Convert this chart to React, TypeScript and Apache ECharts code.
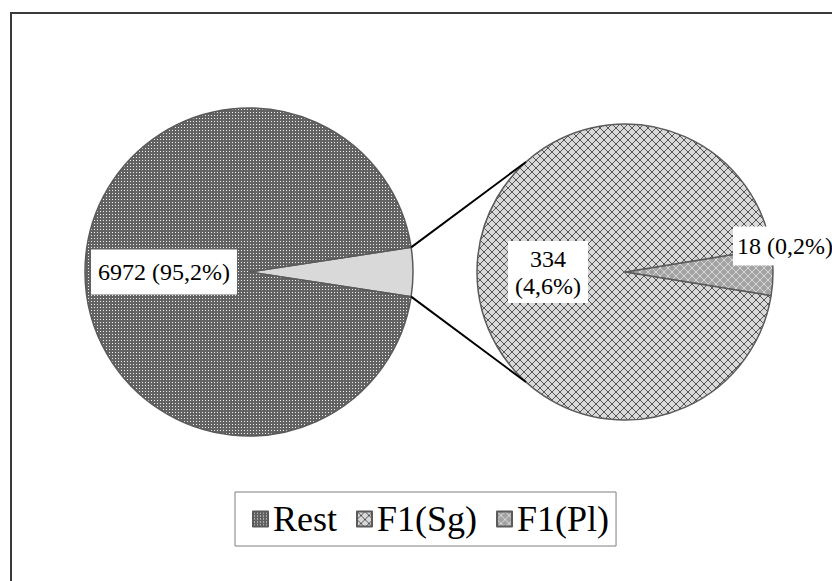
import React, { useEffect, useRef } from "react";
import * as echarts from "echarts";

// ---- data ----
const restName = "Rest";
const restValue = 6972;
const splitNames = ["F1(Pl)", "F1(Sg)"];
const splitValues = [18, 334];
const legendLabels = ["Rest", "F1(Sg)", "F1(Pl)"];

// ---- layout ----
const W = 832;
const H = 581;
const LEFT_C = [249, 272];
const LEFT_R = 164;
const RIGHT_C = [625, 272];
const RIGHT_R = 148;
const CONNECT_ANGLE = 132; // degrees on the second pie
const FONT = "'Liberation Serif', 'Times New Roman', serif";

function tile(size: number, bg: string, fg: string, draw: (ctx: CanvasRenderingContext2D, s: number) => void) {
  const c = document.createElement("canvas");
  c.width = size;
  c.height = size;
  const ctx = c.getContext("2d") as CanvasRenderingContext2D;
  ctx.fillStyle = bg;
  ctx.fillRect(0, 0, size, size);
  ctx.fillStyle = fg;
  draw(ctx, size);
  return { image: c.toDataURL(), repeat: "repeat", imageWidth: size, imageHeight: size } as any;
}

const crossDraw = (ctx: CanvasRenderingContext2D, s: number) => {
  for (let i = 0; i < s; i++) {
    ctx.fillRect(i, i, 1, 1);
    ctx.fillRect(s - 1 - i, i, 1, 1);
  }
};

export default function App() {
  const ref = useRef<HTMLDivElement>(null);

  useEffect(() => {
    if (!ref.current) return;
    const chart = echarts.init(ref.current, undefined, { renderer: "svg" });

    const splitTotal = splitValues.reduce((a, b) => a + b, 0);
    const total = restValue + splitTotal;
    const pct = (v: number) => (v / total * 100).toFixed(1).replace(".", ",");

    const restPattern = tile(3, "#626262", "#f0f0f0", (ctx) => {
      ctx.fillRect(1, 1, 1, 1);
    });
    const sgPattern = tile(8, "#d9d9d9", "#555555", crossDraw);
    const plPattern = tile(8, "#a3a3a3", "#d6d6d6", crossDraw);
    const splitColors: Record<string, any> = { "F1(Pl)": plPattern, "F1(Sg)": sgPattern };

    const half = (splitTotal / total) * 180; // half-angle of the split slice, degrees
    const hr = (half * Math.PI) / 180;
    const cr = (CONNECT_ANGLE * Math.PI) / 180;

    const border = { borderColor: "#5a5a5a", borderWidth: 1.5 };
    const labelBase = {
      show: true,
      position: "inside",
      color: "#000",
      fontFamily: FONT,
      fontSize: 24,
      lineHeight: 27,
      backgroundColor: "#fff",
    };

    chart.setOption({
      animation: false,
      backgroundColor: "#fff",
      legend: {
        data: legendLabels,
        left: 235,
        top: 492,
        orient: "horizontal",
        icon: "rect",
        itemWidth: 15,
        itemHeight: 15,
        itemGap: 19,
        selectedMode: false,
        borderColor: "#7f7f7f",
        borderWidth: 1,
        backgroundColor: "#fff",
        padding: [9, 7, 9, 17],
        textStyle: { color: "#000", fontFamily: FONT, fontSize: 36 },
      },
      graphic: [
        {
          type: "rect",
          silent: true,
          z: -10,
          shape: { x: 11, y: 13, width: 900, height: 700 },
          style: { fill: "none", stroke: "#3a3a3a", lineWidth: 2 },
        },
        {
          type: "line",
          silent: true,
          z: 10,
          shape: {
            x1: LEFT_C[0] + LEFT_R * Math.cos(hr),
            y1: LEFT_C[1] - LEFT_R * Math.sin(hr),
            x2: RIGHT_C[0] + RIGHT_R * Math.cos(cr),
            y2: RIGHT_C[1] - RIGHT_R * Math.sin(cr),
          },
          style: { stroke: "#000", lineWidth: 2 },
        },
        {
          type: "line",
          silent: true,
          z: 10,
          shape: {
            x1: LEFT_C[0] + LEFT_R * Math.cos(hr),
            y1: LEFT_C[1] + LEFT_R * Math.sin(hr),
            x2: RIGHT_C[0] + RIGHT_R * Math.cos(cr),
            y2: RIGHT_C[1] + RIGHT_R * Math.sin(cr),
          },
          style: { stroke: "#000", lineWidth: 2 },
        },
      ],
      series: [
        {
          type: "pie",
          center: LEFT_C,
          radius: [0, LEFT_R],
          startAngle: half,
          clockwise: true,
          silent: true,
          emphasis: { disabled: true },
          labelLine: { show: false },
          data: [
            {
              name: "F1",
              value: splitTotal,
              itemStyle: { color: "#d9d9d9", ...border },
              label: { show: false },
            },
            {
              name: restName,
              value: restValue,
              itemStyle: { color: restPattern, ...border },
              label: {
                ...labelBase,
                padding: [9, 7],
                formatter: (p: any) => `${p.value} (${pct(p.value)}%)`,
              },
            },
          ],
        },
        {
          type: "pie",
          center: RIGHT_C,
          radius: [0, RIGHT_R],
          startAngle: (splitValues[0] / splitTotal) * 180,
          clockwise: true,
          silent: true,
          emphasis: { disabled: true },
          labelLine: { show: false },
          labelLayout: (params: any) =>
            params.dataIndex === 0 ? { dx: 83, dy: -26 } : {},
          data: splitNames.map((n, i) => ({
            name: n,
            value: splitValues[i],
            itemStyle: { color: splitColors[n], ...border },
            label: {
              ...labelBase,
              padding: i === 0 ? [6, 4] : [4, 7],
              formatter: (p: any) =>
                i === 0 ? `${p.value} (${pct(p.value)}%)` : `${p.value}\n(${pct(p.value)}%)`,
            },
          })),
        },
      ],
    });

    return () => chart.dispose();
  }, []);

  return (
    <div
      ref={ref}
      style={{ position: "absolute", left: 0, top: 0, width: W, height: H }}
    />
  );
}
